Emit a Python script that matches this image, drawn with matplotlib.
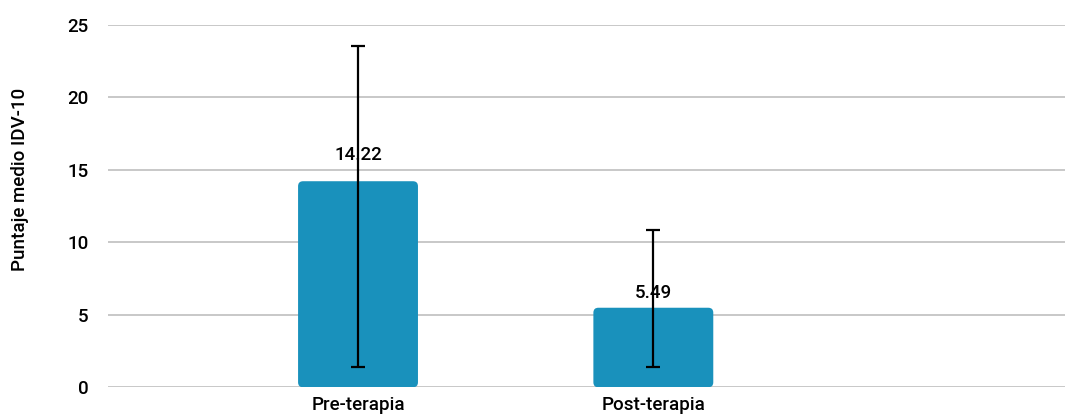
import matplotlib.pyplot as plt
from matplotlib import font_manager
from matplotlib.patches import FancyBboxPatch

categories = ['Pre-terapia', 'Post-terapia']
means = [14.22, 5.49]
err_low = [12.84, 4.09]
err_high = [9.31, 5.37]
value_labels = ['14.22', '5.49']

bar_color = '#1991bc'

# look for a medium weight face, else fall back to regular Roboto
family, fw = 'Roboto', 'normal'
for name in ['Roboto', 'Inter', 'Lato', 'Open Sans', 'Noto Sans']:
    ws = [f.weight for f in font_manager.fontManager.ttflist if f.name == name]
    if 500 in ws or 'medium' in ws:
        family, fw = name, 500
        break
plt.rcParams['font.family'] = [family, 'DejaVu Sans']
fs = 13.5

fig = plt.figure(figsize=(10.65, 4.16), dpi=100)
ax = fig.add_axes([108 / 1065, (416 - 387.3) / 416, 957 / 1065, 362.3 / 416])

x = list(range(len(categories)))
width = 0.406
bars = ax.bar(x, means, width=width, color=bar_color, zorder=2)

ax.set_xlim(-0.8466, 2.394)
ax.set_ylim(0, 25)

# swap the plain bars for rounded ones
fig.canvas.draw()
bbox = ax.get_window_extent()
px_x = (ax.get_xlim()[1] - ax.get_xlim()[0]) / bbox.width
px_y = (ax.get_ylim()[1] - ax.get_ylim()[0]) / bbox.height
for b in bars:
    b.set_visible(False)
    r = 5 * px_x
    p = FancyBboxPatch((b.get_x(), b.get_y()), b.get_width(), b.get_height(),
                       boxstyle='round,pad=0,rounding_size=%f' % r,
                       mutation_aspect=px_y / px_x,
                       facecolor=bar_color, edgecolor='none', zorder=2)
    ax.add_patch(p)

ax.errorbar(x, means, yerr=[err_low, err_high], fmt='none', ecolor='black',
            elinewidth=1.6, capsize=5, capthick=1.6, zorder=4)

offsets = [26, 15]
for xi, m, lab, off in zip(x, means, value_labels, offsets):
    ax.annotate(lab, (xi, m), xytext=(0, off), textcoords='offset pixels',
                ha='center', va='center', fontsize=fs, fontweight=fw,
                color='black', zorder=3)

ax.set_yticks([0, 5, 10, 15, 20, 25])
ax.set_xticks(x)
ax.set_xticklabels(categories)
ax.grid(axis='y', color='#c4c4c4', linewidth=1.3, zorder=0)
ax.set_axisbelow(True)
for s in ax.spines.values():
    s.set_visible(False)
ax.tick_params(axis='both', length=0, labelsize=fs)
ax.tick_params(axis='y', pad=14)
ax.tick_params(axis='x', pad=6)
for t in ax.get_xticklabels() + ax.get_yticklabels():
    t.set_fontweight(fw)
ax.set_ylabel('Puntaje medio IDV-10', fontsize=fs, fontweight=fw)
ax.yaxis.set_label_coords(-0.0825, 0.5745)

fig.savefig('out.png', dpi=100)
